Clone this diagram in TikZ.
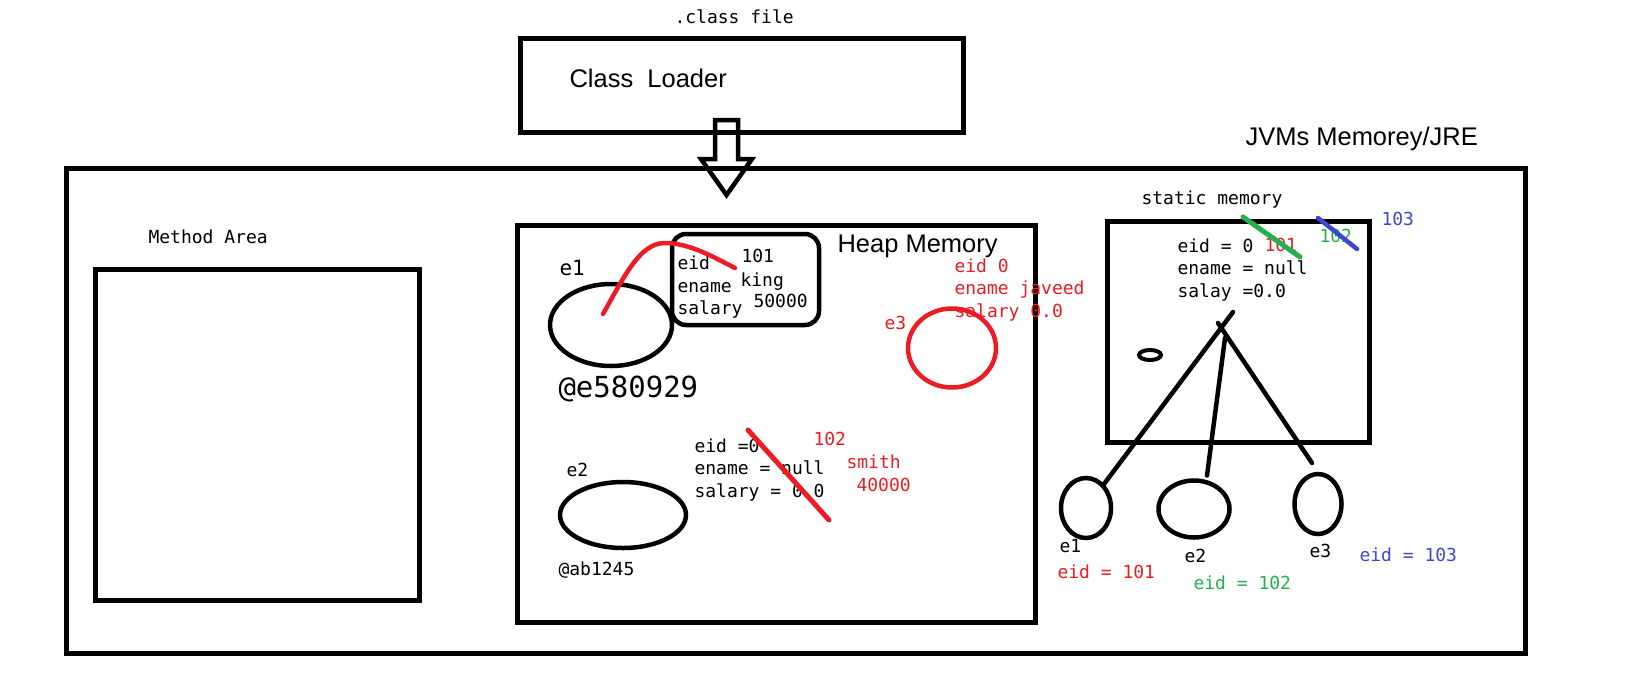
\documentclass[tikz,border=0pt]{standalone}
\usepackage{fontspec}
\setmainfont{Liberation Sans}
\newfontfamily\codefont{DejaVu Sans Mono}
\usetikzlibrary{shapes.geometric}
\definecolor{pred}{HTML}{ED1C24}
\definecolor{pgreen}{HTML}{22B14C}
\definecolor{pblue}{HTML}{3F48CC}

\begin{document}
\begin{tikzpicture}[x=1pt, y=-1pt, line width=5pt]
  \tikzset{
    frame/.style={draw, rectangle, inner sep=0, outer sep=0, anchor=north west},
    blob/.style={draw, ellipse, inner sep=0, outer sep=0, line width=4.5pt},
    sans/.style={font=\fontsize{25.5}{30}\selectfont, inner sep=0, anchor=base west},
    code/.style={font=\codefont\fontsize{18}{22}\selectfont, inner sep=0, anchor=base west},
    wire/.style={line width=4.5pt, line cap=round},
  }
  \useasboundingbox (0,0) rectangle (1643,686);
  % Class loader
  \node[code] (cf) at (672,23) {.class file};
  \node[frame, minimum width=443pt, minimum height=94pt] (ld) at (520,38) {};
  \node[sans] (ldt) at (567,87) {Class\ \ Loader};
  % JVM frame
  \node[frame, minimum width=1459pt, minimum height=485pt] (jvm) at (66,168) {};
  \node[sans] (jvmt) at (1243,145) {JVMs Memorey/JRE};
  % hollow arrow
  \coordinate (arrtop) at (726.5,120);
  \draw[line width=4.5pt, line join=miter] (arrtop) ++(-11.5,0) -- ++(23,0) -- ++(0,39)
    -- ++(14,0) -- ++(-25.5,36) -- ++(-25.5,-36) -- ++(14,0) -- cycle;
  % Method area
  \node[code] (mat) at (146,243) {Method Area};
  \node[frame, minimum width=324pt, minimum height=331pt] (ma) at (95,269) {};
  % Heap
  \node[frame, minimum width=518pt, minimum height=397pt] (heap) at (517,225) {};
  \node[sans] (heapt) at (835,252) {Heap Memory};
  % e1
  \node[code, font=\codefont\fontsize{21}{24}\selectfont] (e1t) at (557,275) {e1};
  \node[blob, minimum width=122pt, minimum height=82pt] (e1o) at (611,325) {};
  \node[code, font=\codefont\fontsize{29}{32}\selectfont] (e1a) at (556,397) {@e580929};
  \node[frame, rounded corners=14pt, line width=4.5pt,
        minimum width=147pt, minimum height=91pt] (obj1) at (672,234) {};
  \node[code] (o1a) at (675,269) {eid};
  \node[code] (o1b) at (675,292) {ename};
  \node[code] (o1c) at (675,314) {salary};
  \node[code] (o1d) at (739,262) {101};
  \node[code] (o1e) at (738,286) {king};
  \node[code] (o1f) at (751,307) {50000};
  \coordinate (refa) at (603,314);
  \coordinate (refb) at (735,268);
  \draw[wire, pred] (refa) .. controls (625,275) and (640,243) .. (665,243)
    .. controls (690,243) and (715,258) .. (refb);
  % e2
  \node[code] (e2t) at (564,476) {e2};
  \node[blob, minimum width=126pt, minimum height=66pt] (e2o) at (623,515) {};
  \node[code] (e2a) at (556,575) {@ab1245};
  \node[code] (o2a) at (692,452) {eid =0};
  \node[code] (o2b) at (692,474) {ename = null};
  \node[code] (o2c) at (692,497) {salary = 0.0};
  \coordinate (s2a) at (748,430);
  \coordinate (s2b) at (829,520);
  \draw[wire, pred, line width=5pt] (s2a) -- (s2b);
  \node[code, pred] (o2d) at (811,445) {102};
  \node[code, pred] (o2e) at (844,468) {smith};
  \node[code, pred] (o2f) at (854,491) {40000};
  % e3
  \node[code, pred] (e3t) at (882,329) {e3};
  \node[blob, pred, minimum width=88pt, minimum height=79pt] (e3o) at (952,348) {};
  \node[code, pred] (o3a) at (952,272) {eid 0};
  \node[code, pred] (o3b) at (952,294) {ename javeed};
  \node[code, pred] (o3c) at (952,317) {salary 0.0};
  % Static memory
  \node[code] (stt) at (1139,204) {static memory};
  \node[frame, minimum width=262pt, minimum height=221pt] (st) at (1107,221) {};
  \node[code] (sa) at (1175,252) {eid = 0};
  \node[code] (sb) at (1175,274) {ename = null};
  \node[code] (sc) at (1175,297) {salay =0.0};
  \node[code, pred] (sd) at (1262,251) {101};
  \node[code, pgreen] (se) at (1317,242) {102};
  \node[code, pblue] (sf) at (1379,225) {103};
  \coordinate (gsa) at (1243,217);
  \coordinate (gsb) at (1300,257);
  \coordinate (bsa) at (1318,218);
  \coordinate (bsb) at (1357,249);
  \draw[wire, pgreen, line width=5pt] (gsa) -- (gsb);
  \draw[wire, pblue] (bsa) -- (bsb);
  \node[blob, line width=4pt, minimum width=22pt, minimum height=10pt] (dot) at (1150,355) {};
  % objects below static memory
  \node[blob, minimum width=50pt, minimum height=60pt] (c1) at (1086,508) {};
  \node[blob, minimum width=71pt, minimum height=57pt] (c2) at (1194,509) {};
  \node[blob, minimum width=47pt, minimum height=60pt] (c3) at (1318,504) {};
  \coordinate (l1) at (1233,312);
  \coordinate (l2) at (1225,338);
  \coordinate (l3) at (1218,323);
  \coordinate (c2in) at ([shift={(13pt,5pt)}]c2.north);
  \coordinate (c3in) at ([shift={(-6pt,11pt)}]c3.north);
  \draw[wire] (l1) -- (c1);
  \draw[wire] (l2) -- (c2in);
  \draw[wire] (l3) -- (c3in);
  \node[code] (c1t) at (1057,552) {e1};
  \node[code] (c2t) at (1182,562) {e2};
  \node[code] (c3t) at (1307,557) {e3};
  \node[code, pred] (c1e) at (1055,578) {eid = 101};
  \node[code, pgreen] (c2e) at (1191,589) {eid = 102};
  \node[code, pblue] (c3e) at (1357,561) {eid = 103};
\end{tikzpicture}
\end{document}
